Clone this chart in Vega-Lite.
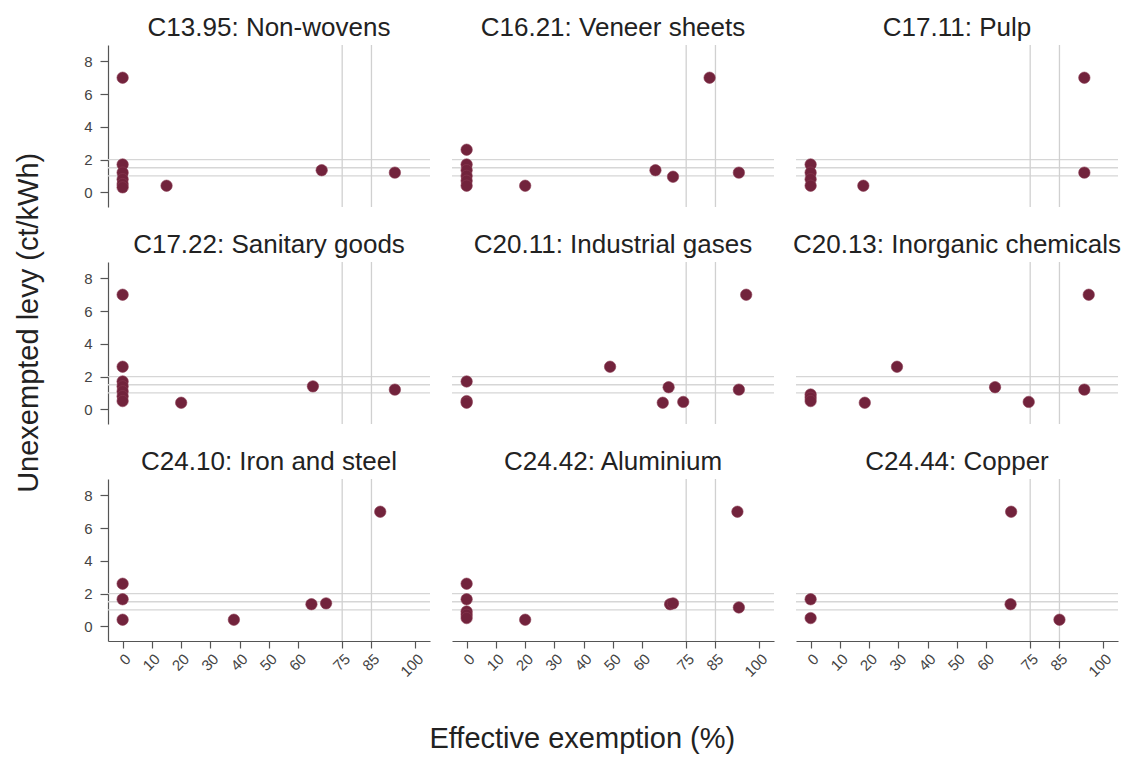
{
  "$schema": "https://vega.github.io/schema/vega-lite/v6.json",
  "padding": {"left": 14, "top": 15, "right": 4, "bottom": 2},
  "background": "white",
  "title": {"text": "Unexempted levy (ct/kWh)", "orient": "left", "anchor": "middle", "fontSize": 29, "fontWeight": "normal", "font": "Liberation Sans", "color": "#222222", "offset": 40, "dx": 62},
  "vconcat": [
    {
      "title": {"text": "Effective exemption (%)", "orient": "bottom", "anchor": "middle", "fontSize": 29, "fontWeight": "normal", "font": "Liberation Sans", "color": "#222222", "offset": 46, "dx": -20},
      "data": {"values": [
        {"sector": "C13.95: Non-wovens", "x": 0, "y": 7.0},
        {"sector": "C13.95: Non-wovens", "x": 0, "y": 1.7},
        {"sector": "C13.95: Non-wovens", "x": 0, "y": 1.2},
        {"sector": "C13.95: Non-wovens", "x": 0, "y": 0.8},
        {"sector": "C13.95: Non-wovens", "x": 0, "y": 0.5},
        {"sector": "C13.95: Non-wovens", "x": 0, "y": 0.3},
        {"sector": "C13.95: Non-wovens", "x": 15, "y": 0.4},
        {"sector": "C13.95: Non-wovens", "x": 68, "y": 1.35},
        {"sector": "C13.95: Non-wovens", "x": 93, "y": 1.2},
        {"sector": "C16.21: Veneer sheets", "x": 0, "y": 2.6},
        {"sector": "C16.21: Veneer sheets", "x": 0, "y": 1.7},
        {"sector": "C16.21: Veneer sheets", "x": 0, "y": 1.35},
        {"sector": "C16.21: Veneer sheets", "x": 0, "y": 1.0},
        {"sector": "C16.21: Veneer sheets", "x": 0, "y": 0.7},
        {"sector": "C16.21: Veneer sheets", "x": 0, "y": 0.4},
        {"sector": "C16.21: Veneer sheets", "x": 20, "y": 0.4},
        {"sector": "C16.21: Veneer sheets", "x": 64.5, "y": 1.35},
        {"sector": "C16.21: Veneer sheets", "x": 70.5, "y": 0.95},
        {"sector": "C16.21: Veneer sheets", "x": 83, "y": 7.0},
        {"sector": "C16.21: Veneer sheets", "x": 93, "y": 1.2},
        {"sector": "C17.11: Pulp", "x": 0, "y": 1.7},
        {"sector": "C17.11: Pulp", "x": 0, "y": 1.2},
        {"sector": "C17.11: Pulp", "x": 0, "y": 0.8},
        {"sector": "C17.11: Pulp", "x": 0, "y": 0.4},
        {"sector": "C17.11: Pulp", "x": 18, "y": 0.4},
        {"sector": "C17.11: Pulp", "x": 93.5, "y": 7.0},
        {"sector": "C17.11: Pulp", "x": 93.5, "y": 1.2},
        {"sector": "C17.22: Sanitary goods", "x": 0, "y": 7.0},
        {"sector": "C17.22: Sanitary goods", "x": 0, "y": 2.6},
        {"sector": "C17.22: Sanitary goods", "x": 0, "y": 1.7},
        {"sector": "C17.22: Sanitary goods", "x": 0, "y": 1.4},
        {"sector": "C17.22: Sanitary goods", "x": 0, "y": 1.1},
        {"sector": "C17.22: Sanitary goods", "x": 0, "y": 0.8},
        {"sector": "C17.22: Sanitary goods", "x": 0, "y": 0.5},
        {"sector": "C17.22: Sanitary goods", "x": 20, "y": 0.4},
        {"sector": "C17.22: Sanitary goods", "x": 65, "y": 1.4},
        {"sector": "C17.22: Sanitary goods", "x": 93, "y": 1.2},
        {"sector": "C20.11: Industrial gases", "x": 0, "y": 1.7},
        {"sector": "C20.11: Industrial gases", "x": 0, "y": 0.5},
        {"sector": "C20.11: Industrial gases", "x": 0, "y": 0.4},
        {"sector": "C20.11: Industrial gases", "x": 49, "y": 2.6},
        {"sector": "C20.11: Industrial gases", "x": 69, "y": 1.35},
        {"sector": "C20.11: Industrial gases", "x": 67, "y": 0.4},
        {"sector": "C20.11: Industrial gases", "x": 74, "y": 0.45},
        {"sector": "C20.11: Industrial gases", "x": 93, "y": 1.2},
        {"sector": "C20.11: Industrial gases", "x": 95.5, "y": 7.0},
        {"sector": "C20.13: Inorganic chemicals", "x": 0, "y": 0.9},
        {"sector": "C20.13: Inorganic chemicals", "x": 0, "y": 0.7},
        {"sector": "C20.13: Inorganic chemicals", "x": 0, "y": 0.5},
        {"sector": "C20.13: Inorganic chemicals", "x": 18.5, "y": 0.4},
        {"sector": "C20.13: Inorganic chemicals", "x": 29.5, "y": 2.6},
        {"sector": "C20.13: Inorganic chemicals", "x": 63, "y": 1.35},
        {"sector": "C20.13: Inorganic chemicals", "x": 74.5, "y": 0.45},
        {"sector": "C20.13: Inorganic chemicals", "x": 93.5, "y": 1.2},
        {"sector": "C20.13: Inorganic chemicals", "x": 95, "y": 7.0},
        {"sector": "C24.10: Iron and steel", "x": 0, "y": 2.6},
        {"sector": "C24.10: Iron and steel", "x": 0, "y": 1.65},
        {"sector": "C24.10: Iron and steel", "x": 0, "y": 0.4},
        {"sector": "C24.10: Iron and steel", "x": 38, "y": 0.4},
        {"sector": "C24.10: Iron and steel", "x": 64.5, "y": 1.35},
        {"sector": "C24.10: Iron and steel", "x": 69.5, "y": 1.4},
        {"sector": "C24.10: Iron and steel", "x": 88, "y": 7.0},
        {"sector": "C24.42: Aluminium", "x": 0, "y": 2.6},
        {"sector": "C24.42: Aluminium", "x": 0, "y": 1.65},
        {"sector": "C24.42: Aluminium", "x": 0, "y": 0.9},
        {"sector": "C24.42: Aluminium", "x": 0, "y": 0.7},
        {"sector": "C24.42: Aluminium", "x": 0, "y": 0.5},
        {"sector": "C24.42: Aluminium", "x": 20, "y": 0.4},
        {"sector": "C24.42: Aluminium", "x": 69.5, "y": 1.35},
        {"sector": "C24.42: Aluminium", "x": 70.5, "y": 1.4},
        {"sector": "C24.42: Aluminium", "x": 92.5, "y": 7.0},
        {"sector": "C24.42: Aluminium", "x": 93, "y": 1.15},
        {"sector": "C24.44: Copper", "x": 0, "y": 1.65},
        {"sector": "C24.44: Copper", "x": 0, "y": 0.5},
        {"sector": "C24.44: Copper", "x": 68.5, "y": 7.0},
        {"sector": "C24.44: Copper", "x": 68.3, "y": 1.35},
        {"sector": "C24.44: Copper", "x": 85, "y": 0.4}
      ]},
      "facet": {
        "field": "sector",
        "type": "nominal",
        "sort": ["C13.95: Non-wovens", "C16.21: Veneer sheets", "C17.11: Pulp", "C17.22: Sanitary goods", "C20.11: Industrial gases", "C20.13: Inorganic chemicals", "C24.10: Iron and steel", "C24.42: Aluminium", "C24.44: Copper"],
        "header": {"title": null, "labelFontSize": 26, "labelFont": "Liberation Sans", "labelColor": "#222222", "labelPadding": 3}
      },
      "columns": 3,
      "bounds": "flush",
      "spacing": {"column": 22, "row": 55},
      "spec": {
        "width": 322,
        "height": 162,
        "layer": [
          {
            "transform": [{"aggregate": [{"op": "count", "as": "n"}], "groupby": ["sector"]}],
            "layer": [
              {"mark": {"type": "rule", "color": "#d6d6d6", "strokeWidth": 1.3}, "encoding": {"y": {"datum": 1, "type": "quantitative"}}},
              {"mark": {"type": "rule", "color": "#d6d6d6", "strokeWidth": 1.3}, "encoding": {"y": {"datum": 1.5, "type": "quantitative"}}},
              {"mark": {"type": "rule", "color": "#d6d6d6", "strokeWidth": 1.3}, "encoding": {"y": {"datum": 2, "type": "quantitative"}}},
              {"mark": {"type": "rule", "color": "#d0d0d0", "strokeWidth": 1.3}, "encoding": {"x": {"datum": 75, "type": "quantitative"}}},
              {"mark": {"type": "rule", "color": "#d0d0d0", "strokeWidth": 1.3}, "encoding": {"x": {"datum": 85, "type": "quantitative"}}}
            ]
          },
          {
            "mark": {"type": "circle", "size": 130, "color": "#72233c", "opacity": 1, "stroke": "#8a3a52", "strokeWidth": 0.6},
            "encoding": {
              "x": {"field": "x", "type": "quantitative", "title": null, "scale": {"domain": [-5, 105], "nice": false, "zero": false},
                    "axis": {"values": [0, 10, 20, 30, 40, 50, 60, 75, 85, 100], "tickCount": 30, "labelAngle": -45, "labelOverlap": false, "format": "d"}},
              "y": {"field": "y", "type": "quantitative", "title": null, "scale": {"domain": [-0.9, 9], "nice": false, "zero": false},
                    "axis": {"values": [0, 2, 4, 6, 8], "labelOverlap": false, "format": "d"}}
            }
          }
        ]
      }
    }
  ],
  "config": {
    "view": {"stroke": null},
    "font": "Liberation Sans",
    "axis": {
      "grid": false,
      "domainColor": "#555555",
      "tickColor": "#555555",
      "domainWidth": 1.2,
      "tickWidth": 1.2,
      "tickSize": 7,
      "labelFontSize": 15,
      "labelColor": "#444444",
      "labelFont": "Liberation Sans",
      "labelOverlap": false
    },
    "axisX": {"labelPadding": 3, "labelOverlap": false, "labelAngle": -45, "tickCount": 30},
    "axisY": {"labelPadding": 8, "tickSize": 8, "format": "d"}
  }
}
